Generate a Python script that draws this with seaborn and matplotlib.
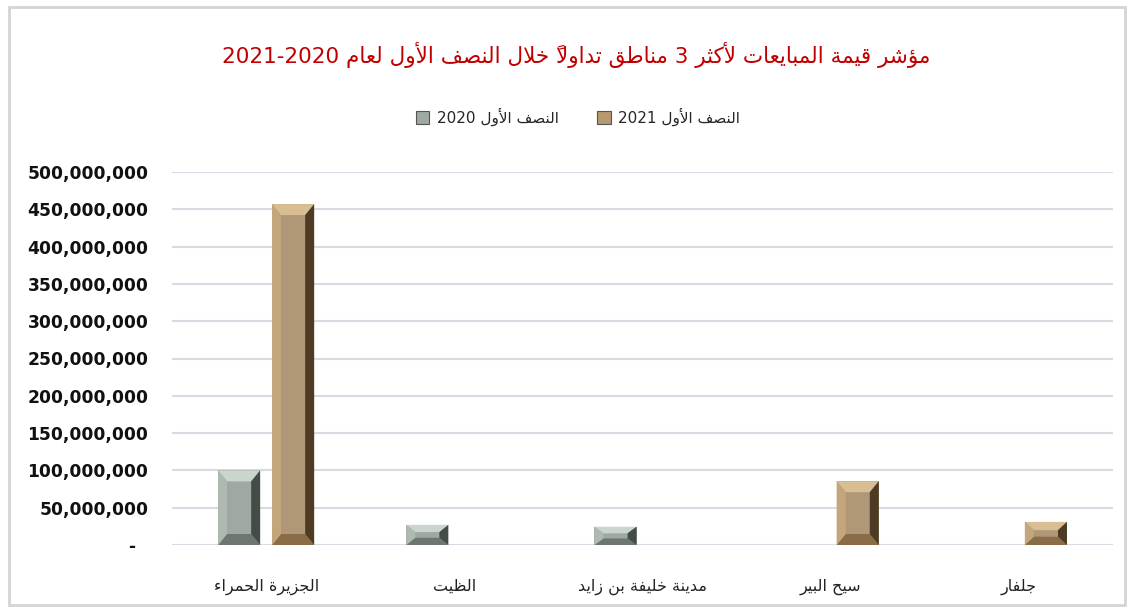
import numpy as np
import pandas as pd
import matplotlib
matplotlib.use("Agg")
import matplotlib.pyplot as plt
from matplotlib.patches import Polygon, Rectangle, FancyBboxPatch
from matplotlib.ticker import FuncFormatter, MultipleLocator
import seaborn as sns

# ---------------- data ----------------
categories = ["الجزيرة الحمراء", "الظيت", "مدينة خليفة بن زايد", "سيح البير", "جلفار"]
series_2020 = [100_000_000, 27_000_000, 24_500_000, np.nan, np.nan]
series_2021 = [457_000_000, np.nan, np.nan, 85_500_000, 31_000_000]
series_names = ["النصف الأول 2020", "النصف الأول 2021"]
title_text = "مؤشر قيمة المبايعات لأكثر 3 مناطق تداولاً خلال النصف الأول لعام 2020-2021"

# ---------------- minimal Arabic shaping (presentation forms) + RTL ordering ----------------
_F = {}
def _dual(ch, start):
    _F[ch] = (start, start + 1, start + 2, start + 3)
def _right(ch, start):
    _F[ch] = (start, start + 1, None, None)
_F["ء"] = (0xFE80, None, None, None)
_right("آ", 0xFE81); _right("أ", 0xFE83); _right("ؤ", 0xFE85); _right("إ", 0xFE87)
_dual("ئ", 0xFE89); _right("ا", 0xFE8D); _dual("ب", 0xFE8F); _right("ة", 0xFE93)
_dual("ت", 0xFE95); _dual("ث", 0xFE99); _dual("ج", 0xFE9D); _dual("ح", 0xFEA1)
_dual("خ", 0xFEA5); _right("د", 0xFEA9); _right("ذ", 0xFEAB); _right("ر", 0xFEAD)
_right("ز", 0xFEAF); _dual("س", 0xFEB1); _dual("ش", 0xFEB5); _dual("ص", 0xFEB9)
_dual("ض", 0xFEBD); _dual("ط", 0xFEC1); _dual("ظ", 0xFEC5); _dual("ع", 0xFEC9)
_dual("غ", 0xFECD); _dual("ف", 0xFED1); _dual("ق", 0xFED5); _dual("ك", 0xFED9)
_dual("ل", 0xFEDD); _dual("م", 0xFEE1); _dual("ن", 0xFEE5); _dual("ه", 0xFEE9)
_right("و", 0xFEED); _right("ى", 0xFEEF); _dual("ي", 0xFEF1)
_LA = {"ا": (0xFEFB, 0xFEFC), "أ": (0xFEF7, 0xFEF8), "إ": (0xFEF9, 0xFEFA), "آ": (0xFEF5, 0xFEF6)}

def _is_mark(c):
    return 0x064B <= ord(c) <= 0x0652

def shape(text):
    toks = []
    i = 0
    while i < len(text):
        c = text[i]
        if _is_mark(c) and toks:
            toks[-1][2] += c
            i += 1
            continue
        if c == "ل" and i + 1 < len(text) and text[i + 1] in _LA:
            iso, fin = _LA[text[i + 1]]
            toks.append([c + text[i + 1], (iso, fin, None, None), ""])
            i += 2
            continue
        toks.append([c, _F.get(c), ""])
        i += 1
    glyphs = []
    for k, (key, forms, marks) in enumerate(toks):
        if forms is None:
            glyphs.append((key, marks))
            continue
        prev = toks[k - 1][1] if k > 0 else None
        nxt = toks[k + 1][1] if k + 1 < len(toks) else None
        cp = prev is not None and prev[2] is not None and forms[1] is not None
        cn = forms[2] is not None and nxt is not None and nxt[1] is not None
        if cp and cn:
            g = forms[3]
        elif cp:
            g = forms[1]
        elif cn:
            g = forms[2]
        else:
            g = forms[0]
        glyphs.append((chr(g), marks))
    runs = []
    for g, m in glyphs:
        is_digit = g.isdigit()
        if runs and runs[-1][0] == is_digit:
            runs[-1][1].append(m + g)
        else:
            runs.append([is_digit, [m + g]])
    out = []
    for is_digit, items in reversed(runs):
        if is_digit:
            out.extend(items)
        else:
            out.extend(reversed(items))
    return "".join(out)

# ---------------- figure ----------------
sns.set_theme(style="white")
plt.rcParams["font.family"] = ["DejaVu Sans"]

W, H = 1130, 613
fig = plt.figure(figsize=(W / 100, H / 100), dpi=100)
fig.patch.set_facecolor("white")

fig.add_artist(FancyBboxPatch((9 / W, 8 / H), (1116 / W), (598 / H),
                              boxstyle="square,pad=0", transform=fig.transFigure,
                              facecolor="none", edgecolor="#D4D4D4", linewidth=2.0))

ax = fig.add_axes([172 / W, (H - 545) / H, (1113 - 172) / W, (545 - 172) / H])

df = pd.DataFrame({
    "category": categories * 2,
    "period": [series_names[0]] * len(categories) + [series_names[1]] * len(categories),
    "value": list(series_2020) + list(series_2021),
})

face = {series_names[0]: "#9EAAA1", series_names[1]: "#B8986E"}
sns.barplot(data=df, x="category", y="value", hue="period", hue_order=series_names,
            order=categories, palette=face, width=0.574, gap=0.22, ax=ax,
            edgecolor="none", legend=False, errorbar=None)

ax.set_xlim(-0.5, len(categories) - 0.5)
ax.set_ylim(0, 500_000_000)
ax.yaxis.set_major_locator(MultipleLocator(50_000_000))
ax.yaxis.set_major_formatter(FuncFormatter(lambda v, p: "-  " if v == 0 else f"{v:,.0f}"))
ax.grid(axis="y", color="#D9D9E3", linewidth=1.5)
ax.grid(axis="x", visible=False)
ax.set_axisbelow(True)
for s in ax.spines.values():
    s.set_visible(False)
ax.set_xlabel("")
ax.set_ylabel("")
ax.tick_params(axis="y", length=0, pad=17, labelsize=12.3)
for t in ax.get_yticklabels():
    t.set_fontweight("bold")
    t.set_color("#111111")
ax.set_xticks(range(len(categories)))
ax.set_xticklabels([shape(c) for c in categories], fontsize=11.5, color="#222222")
ax.tick_params(axis="x", length=0, pad=24)

# bevel decoration for each drawn bar (derived from the bar geometry)
shades = {
    "#9EAAA1": dict(top="#C9D5CD", left="#AEB9B1", right="#444C46", bottom="#6C786F"),
    "#B8986E": dict(top="#D9BD93", left="#C4A67D", right="#4E3B23", bottom="#8A6C46"),
}
y_per_px = 500_000_000 / 373.0
x_per_px = 1.0 / 188.2
for p in list(ax.patches):
    h = p.get_height()
    if not np.isfinite(h) or h <= 0:
        continue
    x, y, w = p.get_x(), p.get_y(), p.get_width()
    fc = matplotlib.colors.to_rgb(p.get_facecolor())
    key = min(shades, key=lambda k: sum(abs(a - b) for a, b in zip(matplotlib.colors.to_rgb(k), fc)))
    sh = shades[key]
    bx = 9 * x_per_px
    by = min(11 * y_per_px, h * 0.36)
    polys = [
        ([(x, y + h), (x + w, y + h), (x + w - bx, y + h - by), (x + bx, y + h - by)], sh["top"]),
        ([(x, y), (x + w, y), (x + w - bx, y + by), (x + bx, y + by)], sh["bottom"]),
        ([(x, y), (x + bx, y + by), (x + bx, y + h - by), (x, y + h)], sh["left"]),
        ([(x + w, y), (x + w - bx, y + by), (x + w - bx, y + h - by), (x + w, y + h)], sh["right"]),
    ]
    for pts, col in polys:
        ax.add_patch(Polygon(pts, closed=True, facecolor=col, edgecolor="none", zorder=p.get_zorder() + 0.1))

# title
fig.text(576 / W, 1 - 55 / H, shape(title_text), color="#C00000", fontsize=15.5,
         ha="center", va="center")

# legend
handles = [Rectangle((0, 0), 1, 1, facecolor=face[n], edgecolor="#555555", linewidth=0.8) for n in series_names]
fig.legend(handles, [shape(n) for n in series_names], loc="center",
           bbox_to_anchor=(578 / W, 1 - 117 / H), ncol=2, frameon=False,
           fontsize=11, handlelength=0.9, handleheight=0.9, handletextpad=0.5,
           columnspacing=2.5)

fig.savefig("out.png", dpi=100, facecolor="white")
